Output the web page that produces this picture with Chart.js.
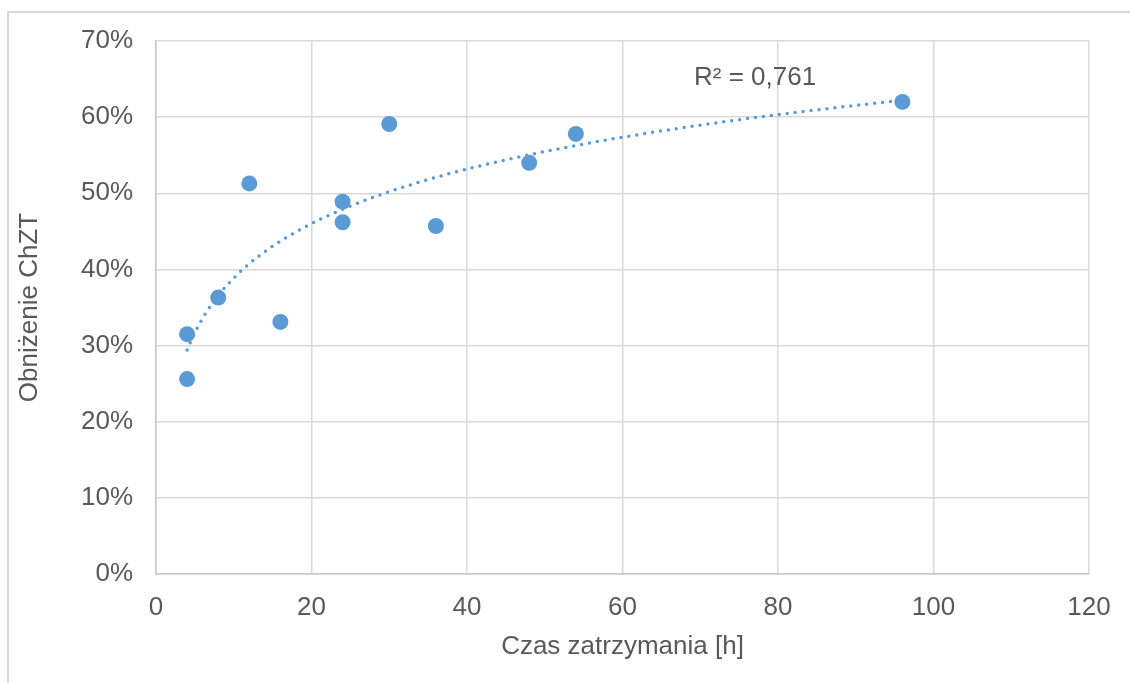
<!DOCTYPE html>
<html>
<head>
<meta charset="utf-8">
<script src="https://cdn.jsdelivr.net/npm/chart.js@4.4.0/dist/chart.umd.min.js"></script>
<style>
    html, body { margin: 0; padding: 0; background: #fff; overflow: hidden; }
    #frame {
        position: absolute; left: 7px; top: 11px;
        width: 1200px; height: 800px;
        border: 2px solid #d9d9d9; box-sizing: border-box;
    }
    #wrap { position: absolute; left: 0; top: 0; width: 1130px; height: 683px; }
</style>
</head>
<body>
<div id="frame"></div>
<div id="wrap"><canvas id="chart" width="1130" height="683"></canvas></div>
<script>
// dane
const czas = [4, 4, 8, 12, 16, 24, 24, 30, 36, 48, 54, 96];
const obnizenie = [0.256, 0.315, 0.363, 0.513, 0.331, 0.489, 0.462, 0.591, 0.457, 0.540, 0.578, 0.620];
const xTicks = [0, 20, 40, 60, 80, 100, 120];
const yTicks = [0, 0.1, 0.2, 0.3, 0.4, 0.5, 0.6, 0.7];
const r2Label = 'R² = 0,761';

const tekst = '#595959';
const niebieski = '#5b9bd5';
const siatka = '#d9d9d9';
const font = { family: '"Liberation Sans", Arial, sans-serif', size: 26 };

// linia trendu logarytmiczna (najmniejsze kwadraty na danych)
function trendLog(xs, ys) {
    const lx = xs.map(v => Math.log(v));
    const mx = lx.reduce((a, b) => a + b, 0) / lx.length;
    const my = ys.reduce((a, b) => a + b, 0) / ys.length;
    let sxy = 0, sxx = 0;
    lx.forEach((v, i) => { sxy += (v - mx) * (ys[i] - my); sxx += (v - mx) * (v - mx); });
    const a = sxy / sxx;
    return { a: a, b: my - a * mx };
}
const fit = trendLog(czas, obnizenie);
const xMin = Math.min(...czas), xMax = Math.max(...czas);
const trend = [];
for (let x = xMin; x <= xMax; x += 0.5) {
    trend.push({ x: x, y: fit.a * Math.log(x) + fit.b });
}

const punkty = czas.map((x, i) => ({ x: x, y: obnizenie[i] }));

// etykieta R²
const r2Plugin = {
    id: 'r2',
    afterDatasetsDraw(chart) {
        const ctx = chart.ctx;
        const px = chart.scales.x.getPixelForValue(69.2);
        const py = chart.scales.y.getPixelForValue(0.651);
        ctx.save();
        ctx.font = font.size + 'px ' + font.family;
        ctx.fillStyle = tekst;
        ctx.textAlign = 'left';
        ctx.textBaseline = 'middle';
        ctx.fillText(r2Label, px, py);
        ctx.restore();
    }
};

new Chart(document.getElementById('chart').getContext('2d'), {
    type: 'scatter',
    data: {
        datasets: [{
            label: 'trend',
            data: trend,
            showLine: true,
            borderColor: niebieski,
            borderWidth: 3.5,
            borderDash: [0, 8],
            borderCapStyle: 'round',
            pointRadius: 0,
            fill: false,
            tension: 0
        }, {
            label: 'Obniżenie ChZT',
            data: punkty,
            backgroundColor: niebieski,
            borderColor: niebieski,
            pointRadius: 8,
            pointBorderWidth: 0
        }]
    },
    options: {
        responsive: false,
        animation: false,
        layout: { padding: { left: 0, top: 41, right: 41, bottom: 0 } },
        plugins: {
            legend: { display: false },
            tooltip: { enabled: false }
        },
        scales: {
            x: {
                type: 'linear',
                min: 0,
                max: 120,
                afterBuildTicks: s => { s.ticks = xTicks.map(v => ({ value: v })); },
                afterFit: s => { s.height = 109; },
                grid: { color: siatka, lineWidth: 1.5, drawTicks: false },
                border: { color: '#c8c8c8', width: 1.5 },
                ticks: { color: tekst, font: font, padding: 18 },
                title: {
                    display: true,
                    text: 'Czas zatrzymania [h]',
                    color: tekst,
                    font: font,
                    padding: { top: 0, bottom: 21 }
                }
            },
            y: {
                type: 'linear',
                min: 0,
                max: 0.7,
                afterBuildTicks: s => { s.ticks = yTicks.map(v => ({ value: v })); },
                afterFit: s => { s.width = 156; },
                grid: { color: siatka, lineWidth: 1.5, drawTicks: false },
                border: { color: '#c8c8c8', width: 1.5 },
                ticks: {
                    color: tekst,
                    font: font,
                    padding: 23,
                    callback: v => Math.round(v * 100) + '%'
                },
                title: {
                    display: true,
                    text: 'Obniżenie ChZT',
                    color: tekst,
                    font: font,
                    padding: { top: 14, bottom: 0 }
                }
            }
        }
    },
    plugins: [r2Plugin]
});
</script>
</body>
</html>
